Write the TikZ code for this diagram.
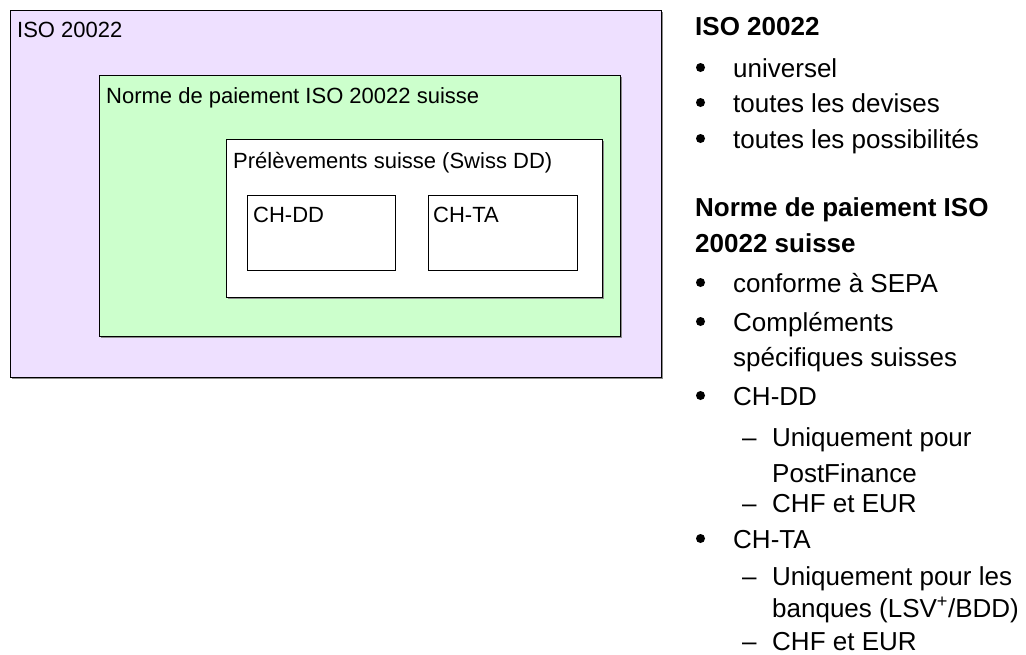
\documentclass[tikz,border=0pt]{standalone}
\usepackage{fontspec}
\setmainfont{Liberation Sans}
\definecolor{lav}{RGB}{238,224,255}
\definecolor{lgreen}{RGB}{204,255,204}
\begin{document}
\begin{tikzpicture}[x=1pt,y=-1pt,
  box/.style={draw=black, line width=0.9pt, anchor=north west, inner sep=0pt, outer sep=0pt},
  shadowbox/.style={fill=black!45, anchor=north west, inner sep=0pt, outer sep=0pt},
  lbl/.style={anchor=base west, inner sep=0pt, font=\fontsize{22}{26}\selectfont},
  rt/.style={anchor=base west, inner sep=0pt, font=\fontsize{26}{30}\selectfont},
  hd/.style={anchor=base west, inner sep=0pt, font=\fontsize{26}{30}\selectfont\bfseries},
  dot/.style={circle, fill=black, inner sep=0pt, minimum size=9pt},
  dashmark/.style={anchor=base west, inner sep=0pt, font=\fontsize{26}{30}\selectfont}]
\useasboundingbox (0,0) rectangle (1026,654);
% boxes
\node[shadowbox, minimum width=651pt, minimum height=367pt] (s1) at (11.5,11.5) {};
\node[box, fill=lav, minimum width=651pt, minimum height=367pt] (iso) at (10,10) {};
\node[shadowbox, minimum width=521pt, minimum height=261pt] (s2) at (100.5,76.5) {};
\node[box, fill=lgreen, minimum width=521pt, minimum height=261pt] (ch) at (99,75) {};
\node[shadowbox, minimum width=376pt, minimum height=158pt] (s3) at (227.5,140.5) {};
\node[box, fill=white, minimum width=376pt, minimum height=158pt] (dd) at (226,139) {};
\node[box, fill=white, minimum width=148pt, minimum height=75pt] (chdd) at (247,195) {};
\node[box, fill=white, minimum width=149pt, minimum height=75pt] (chta) at (428,195) {};
% box labels
\node[lbl] (tiso) at (17,37) {ISO 20022};
\node[lbl] (tch) at (106,103) {Norme de paiement ISO 20022 suisse};
\node[lbl] (tdd) at (233,168) {Prélèvements suisse (Swiss DD)};
\node[lbl] (tchdd) at (253,222) {CH-DD};
\node[lbl] (tchta) at (433,222) {CH-TA};
% right column
\node[hd] (h1) at (695,35) {ISO 20022};
\node[dot] (b1) at (700.5,67.5) {};
\node[rt] (r1) at (733,77) {universel};
\node[dot] (b2) at (700.5,102.5) {};
\node[rt] (r2) at (733,112) {toutes les devises};
\node[dot] (b3) at (700.5,138.5) {};
\node[rt] (r3) at (733,148) {toutes les possibilités};
\node[hd] (h2a) at (695,216) {Norme de paiement ISO};
\node[hd] (h2b) at (695,252) {20022 suisse};
\node[dot] (b4) at (700.5,282.5) {};
\node[rt] (r4) at (733,292) {conforme à SEPA};
\node[dot] (b5) at (700.5,321.5) {};
\node[rt] (r5a) at (733,331) {Compléments};
\node[rt] (r5b) at (733,366) {spécifiques suisses};
\node[dot] (b6) at (700.5,395.5) {};
\node[rt] (r6) at (733,405) {CH-DD};
\node[dashmark] (d1) at (742,446) {–};
\node[rt] (r7a) at (772,446) {Uniquement pour};
\node[rt] (r7b) at (772,482) {PostFinance};
\node[dashmark] (d2) at (742,512) {–};
\node[rt] (r8) at (772,512) {CHF et EUR};
\node[dot] (b7) at (700.5,538.5) {};
\node[rt] (r9) at (733,548) {CH-TA};
\node[dashmark] (d3) at (742,585) {–};
\node[rt] (r10a) at (772,585) {Uniquement pour les};
\node[rt] (r10b) at (772,617) {banques (LSV\textsuperscript{+}/BDD)};
\node[dashmark] (d4) at (742,650) {–};
\node[rt] (r11) at (772,650) {CHF et EUR};
\end{tikzpicture}
\end{document}
